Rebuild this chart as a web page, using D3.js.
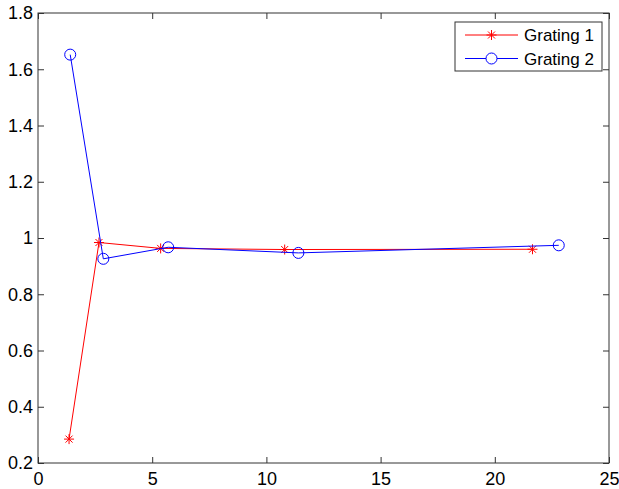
<!DOCTYPE html>
<html>
<head>
<meta charset="UTF-8">
<script src="https://d3js.org/d3.v7.min.js"></script>
<style>
  body { margin: 0; background: #fff; }
  text { font-family: "Liberation Sans", Arial, sans-serif; }
</style>
</head>
<body>
<svg width="619" height="489"></svg>
<script>
const g1x = [1.36, 2.67, 5.37, 10.8, 21.65];
const g1y = [0.285, 0.984, 0.963, 0.959, 0.96];
const g2x = [1.41, 2.86, 5.7, 11.4, 22.8];
const g2y = [1.652, 0.926, 0.967, 0.947, 0.974];
const xTicks = [0, 5, 10, 15, 20, 25];
const yTicks = [0.2, 0.4, 0.6, 0.8, 1, 1.2, 1.4, 1.6, 1.8];
const names = ["Grating 1", "Grating 2"];

const svg = d3.select("svg");
const margin = { top: 13, right: 10, bottom: 26, left: 38 };
const width = 619 - margin.left - margin.right;
const height = 489 - margin.top - margin.bottom;
const g = svg.append("g").attr("transform", `translate(${margin.left},${margin.top})`);

const x = d3.scaleLinear().domain([0, 25]).range([0, width]);
const y = d3.scaleLinear().domain([0.2, 1.8]).range([height, 0]);

const axisColor = "#333";

// box
g.append("rect")
  .attr("width", width).attr("height", height)
  .attr("fill", "none").attr("stroke", axisColor).attr("stroke-width", 1);

// axes, ticks point inward
function styleAxis(sel) {
  sel.select(".domain").remove();
  sel.selectAll(".tick line").attr("stroke", axisColor);
  sel.selectAll(".tick text").attr("fill", "#000").style("font-size", "18px");
}
g.append("g").attr("transform", `translate(0,${height})`)
  .call(d3.axisBottom(x).tickValues(xTicks).tickSize(-6).tickPadding(9).tickFormat(d3.format("d")))
  .call(styleAxis);
g.append("g")
  .call(d3.axisTop(x).tickValues(xTicks).tickSize(-6).tickFormat(""))
  .call(styleAxis);
g.append("g")
  .call(d3.axisLeft(y).tickValues(yTicks).tickSize(-6).tickPadding(5).tickFormat(d => d === 1 ? "1" : d3.format(".1f")(d)))
  .call(styleAxis);
g.append("g").attr("transform", `translate(${width},0)`)
  .call(d3.axisRight(y).tickValues(yTicks).tickSize(-6).tickFormat(""))
  .call(styleAxis);

const line = d3.line().x(d => x(d[0])).y(d => y(d[1]));
const s1 = d3.zip(g1x, g1y);
const s2 = d3.zip(g2x, g2y);

function star(sel, cx, cy, r, color) {
  const p = `M${cx - r},${cy}H${cx + r}M${cx},${cy - r}V${cy + r}` +
    `M${cx - r * 0.7},${cy - r * 0.7}L${cx + r * 0.7},${cy + r * 0.7}` +
    `M${cx - r * 0.7},${cy + r * 0.7}L${cx + r * 0.7},${cy - r * 0.7}`;
  sel.append("path").attr("d", p).attr("stroke", color).attr("stroke-width", 1).attr("fill", "none");
}

g.append("path").datum(s1).attr("d", line).attr("fill", "none").attr("stroke", "#f00").attr("stroke-width", 1);
s1.forEach(d => star(g, x(d[0]), y(d[1]), 5, "#f00"));

g.append("path").datum(s2).attr("d", line).attr("fill", "none").attr("stroke", "#00f").attr("stroke-width", 1);
g.selectAll(".c2").data(s2).join("circle")
  .attr("cx", d => x(d[0])).attr("cy", d => y(d[1])).attr("r", 5.5)
  .attr("fill", "none").attr("stroke", "#00f").attr("stroke-width", 1);

// legend
const lg = svg.append("g").attr("transform", "translate(455,22)");
lg.append("rect").attr("width", 147).attr("height", 49)
  .attr("fill", "#fff").attr("stroke", axisColor);
const colors = ["#f00", "#00f"];
names.forEach((n, i) => {
  const ly = 13 + i * 23.5;
  lg.append("line").attr("x1", 10).attr("x2", 63).attr("y1", ly).attr("y2", ly)
    .attr("stroke", colors[i]);
  if (i === 0) star(lg, 36.5, ly, 5, colors[i]);
  else lg.append("circle").attr("cx", 36.5).attr("cy", ly).attr("r", 5.5)
    .attr("fill", "#fff").attr("stroke", colors[i]);
  lg.append("text").attr("x", 69).attr("y", ly + 6).style("font-size", "17px").text(n);
});
</script>
</body>
</html>
